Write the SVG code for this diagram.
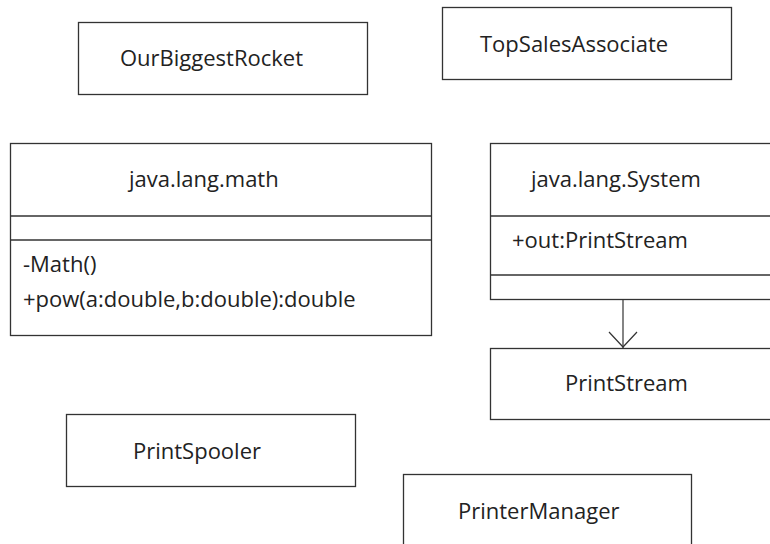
<svg xmlns="http://www.w3.org/2000/svg" width="770" height="544" viewBox="0 0 770 544">
<defs>
<style>
.box{fill:#fff;stroke:#333;stroke-width:1.3}
.sep{stroke:#333;stroke-width:1.3}
.t{font-family:"Open Sans","Noto Sans",sans-serif;font-size:22px;fill:#222}
.conn{stroke:#333;stroke-width:1.2;fill:none}
</style>
</defs>
<rect width="770" height="544" fill="#fff"/>
<g id="OurBiggestRocket">
<rect class="box" x="78.5" y="22.5" width="289" height="72"/>
<text class="t" x="120" y="66">OurBiggestRocket</text>
</g>
<g id="TopSalesAssociate">
<rect class="box" x="442.5" y="7.5" width="289" height="72"/>
<text class="t" x="480" y="52">TopSalesAssociate</text>
</g>
<g id="java.lang.math">
<rect class="box" x="10.5" y="143.5" width="421" height="192"/>
<line class="sep" x1="10.5" y1="216" x2="431.5" y2="216"/>
<line class="sep" x1="10.5" y1="240" x2="431.5" y2="240"/>
<text class="t" x="129" y="187">java.lang.math</text>
<text class="t" x="23" y="272">-Math()</text>
<text class="t" x="23" y="307">+pow(a:double,b:double):double</text>
</g>
<g id="java.lang.System">
<rect class="box" x="490.5" y="143.5" width="300" height="156"/>
<line class="sep" x1="490.5" y1="216" x2="790" y2="216"/>
<line class="sep" x1="490.5" y1="275" x2="790" y2="275"/>
<text class="t" x="531" y="187">java.lang.System</text>
<text class="t" x="512" y="248">+out:PrintStream</text>
</g>
<g id="PrintStream">
<rect class="box" x="490.5" y="348.5" width="300" height="71"/>
<text class="t" x="565" y="391">PrintStream</text>
</g>
<g id="PrintSpooler">
<rect class="box" x="66.5" y="414.5" width="289" height="72"/>
<text class="t" x="133" y="459">PrintSpooler</text>
</g>
<g id="PrinterManager">
<rect class="box" x="403.5" y="474.5" width="288" height="90"/>
<text class="t" x="458" y="519">PrinterManager</text>
</g>
<g id="connectors">
<line class="conn" x1="623" y1="299.5" x2="623" y2="348"/>
<polyline class="conn" points="609,332 623,347 637,332"/>
</g>
</svg>
